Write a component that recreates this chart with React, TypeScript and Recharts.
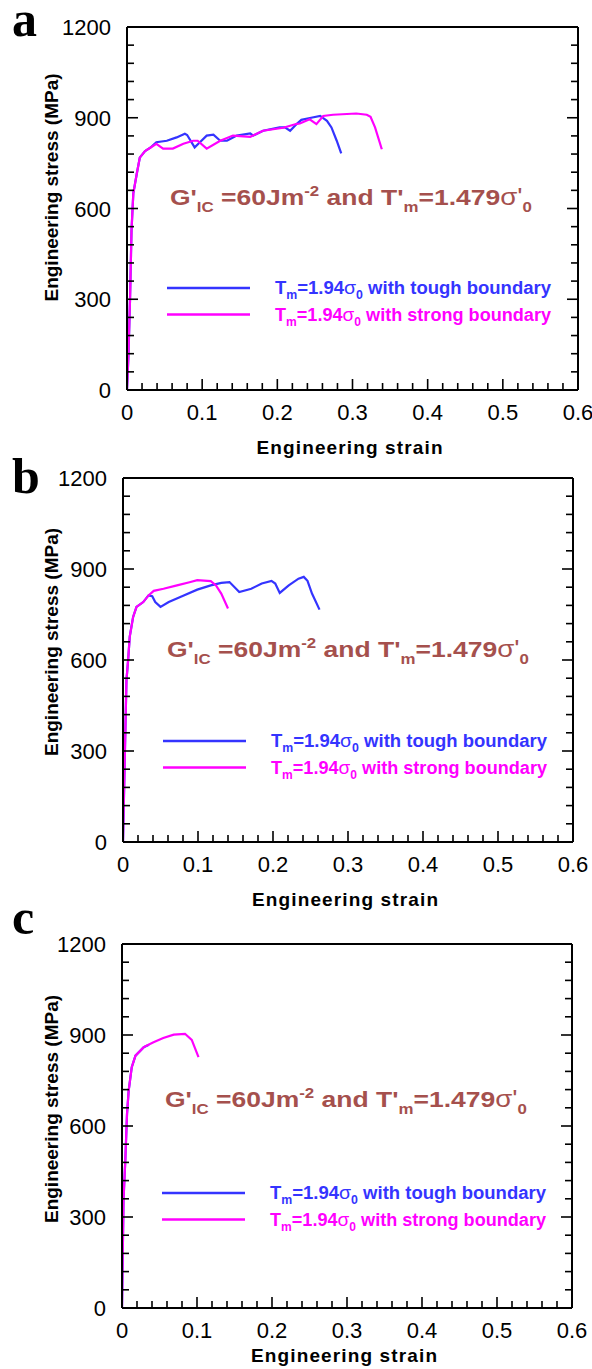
import React from 'react';
import { LineChart, Line, XAxis, YAxis, Legend, Label } from 'recharts';

// axis ticks (minor every 0.02 / 60 MPa, labels on majors)
const strainTicks = [0, 0.02, 0.04, 0.06, 0.08, 0.1, 0.12, 0.14, 0.16, 0.18, 0.2, 0.22, 0.24, 0.26, 0.28, 0.3,
  0.32, 0.34, 0.36, 0.38, 0.4, 0.42, 0.44, 0.46, 0.48, 0.5, 0.52, 0.54, 0.56, 0.58, 0.6];
const strainMajor = [0, 0.1, 0.2, 0.3, 0.4, 0.5, 0.6];
const stressTicks = [0, 60, 120, 180, 240, 300, 360, 420, 480, 540, 600, 660, 720, 780, 840, 900, 960, 1020,
  1080, 1140, 1200];
const stressMajor = [0, 300, 600, 900, 1200];
const seriesOrder = ['tough', 'strong'];

// [strain, stress MPa]
const toughA = [[0, 0], [0.002, 120], [0.004, 297], [0.006, 527], [0.0084, 650], [0.013, 715], [0.017, 768],
  [0.024, 790], [0.031, 801], [0.039, 819], [0.053, 824], [0.066, 835], [0.077, 847], [0.08, 843], [0.09, 802],
  [0.097, 819], [0.106, 841], [0.115, 844], [0.124, 824], [0.133, 824], [0.146, 841], [0.164, 848], [0.168, 841],
  [0.181, 857], [0.203, 868], [0.21, 868], [0.217, 857], [0.226, 880], [0.232, 893], [0.245, 900], [0.257, 906],
  [0.266, 890], [0.272, 868], [0.279, 824], [0.285, 782]];
const strongA = [[0, 0], [0.002, 120], [0.004, 297], [0.006, 527], [0.0084, 650], [0.013, 715], [0.017, 768],
  [0.024, 790], [0.031, 801], [0.039, 814], [0.048, 798], [0.061, 798], [0.075, 814], [0.088, 824], [0.094, 824],
  [0.106, 798], [0.124, 824], [0.141, 841], [0.164, 837], [0.181, 857], [0.208, 867], [0.226, 880], [0.23, 881],
  [0.243, 895], [0.252, 879], [0.261, 906], [0.274, 910], [0.305, 914], [0.319, 910], [0.324, 903], [0.33, 868],
  [0.339, 796]];

const toughB = [[0, 0], [0.0023, 269], [0.0046, 533], [0.0068, 599], [0.009, 677], [0.0135, 742], [0.018, 775],
  [0.027, 791], [0.034, 813], [0.039, 810], [0.043, 791], [0.05, 775], [0.061, 791], [0.081, 813], [0.099, 832],
  [0.117, 846], [0.131, 854], [0.142, 857], [0.155, 824], [0.171, 835], [0.185, 852], [0.198, 861], [0.203, 852],
  [0.209, 821], [0.221, 846], [0.234, 868], [0.241, 874], [0.246, 861], [0.252, 819], [0.262, 766]];
const strongB = [[0, 0], [0.0023, 269], [0.0046, 533], [0.0068, 599], [0.009, 677], [0.0135, 742], [0.018, 775],
  [0.027, 791], [0.034, 813], [0.041, 828], [0.054, 835], [0.072, 846], [0.09, 857], [0.099, 863], [0.117, 860],
  [0.124, 846], [0.131, 819], [0.14, 770]];

const toughC = [[0, 0], [0.001, 180], [0.002, 355], [0.0044, 487], [0.0067, 640], [0.0089, 717], [0.013, 794],
  [0.018, 832], [0.029, 860], [0.036, 868]];
const strongC = [[0, 0], [0.001, 180], [0.002, 355], [0.0044, 487], [0.0067, 640], [0.0089, 717], [0.013, 794],
  [0.018, 832], [0.029, 860], [0.042, 876], [0.055, 890], [0.069, 901], [0.084, 904], [0.093, 884], [0.102, 827]];

const BLUE = '#3434FF';
const MAGENTA = '#FF00FF';
const BROWN = '#A5504D';
const SANS = '"Liberation Sans", Arial, sans-serif';

const toPts = (a: number[][]) => a.map(([x, y]) => ({ x, y }));
const isMajor = (v: number, majors: number[]) => majors.some((m) => Math.abs(m - v) < 1e-6);
const fmtStrain = (v: number) => (v === 0 ? '0' : v.toFixed(1));
const fmtStress = (v: number) => String(v);

// inward ticks on every side of the box, labels only on bottom/left
const makeTick = (side: string, majors: number[], fmt?: (v: number) => string) => (props: any) => {
  const { x, y, payload } = props;
  const v = payload.value;
  const major = isMajor(v, majors);
  const len = major ? 11 : 7;
  let x2 = x;
  let y2 = y;
  if (side === 'bottom') y2 = y - len;
  if (side === 'top') y2 = y + len;
  if (side === 'left') x2 = x + len;
  if (side === 'right') x2 = x - len;
  return (
    <g>
      <line x1={x} y1={y} x2={x2} y2={y2} stroke="#000" strokeWidth={1.6} />
      {fmt && major && side === 'bottom' && (
        <text x={x} y={y + 30} textAnchor="middle" fontSize={22} fill="#000" fontFamily={SANS}>{fmt(v)}</text>
      )}
      {fmt && major && side === 'left' && (
        <text x={x - 16} y={y + 8} textAnchor="end" fontSize={22} fill="#000" fontFamily={SANS}>{fmt(v)}</text>
      )}
    </g>
  );
};

const BottomTick = makeTick('bottom', strainMajor, fmtStrain);
const TopTick = makeTick('top', strainMajor);
const LeftTick = makeTick('left', stressMajor, fmtStress);
const RightTick = makeTick('right', stressMajor);

const LegendBox = ({ payload }: any) => {
  const items = [...(payload || [])].sort(
    (a: any, b: any) => seriesOrder.indexOf(a.value) - seriesOrder.indexOf(b.value),
  );
  return (
    <svg width={430} height={50} style={{ overflow: 'visible' }}>
      {items.map((e: any, i: number) => {
        const y = 12 + i * 26.5;
        return (
          <g key={e.value}>
            <line x1={7} x2={90} y1={y} y2={y} stroke={e.color} strokeWidth={2.4} />
            <text x={115} y={y + 6} fill={e.color} fontFamily={SANS} fontWeight="bold" fontSize={18}
              textLength={276} lengthAdjust="spacingAndGlyphs">
              T<tspan fontSize={12} dy={5}>m</tspan>
              <tspan dy={-5}>=1.94</tspan>
              <tspan fontWeight="normal" fontSize={19}>σ</tspan>
              <tspan fontSize={12} dy={5}>0</tspan>
              <tspan dy={-5}>{` with ${e.value} boundary`}</tspan>
            </text>
          </g>
        );
      })}
    </svg>
  );
};

const panels = [
  { letter: 'a', top: 27, bottom: 390, left: 127, right: 578, tough: toughA, strong: strongA,
    noteX: 170, noteY: 205, legX: 160, legY: 288, yTitleDy: -21, xTitleDy: 64, letterY: 36, axisH: 75 },
  { letter: 'b', top: 478, bottom: 842, left: 123, right: 573, tough: toughB, strong: strongB,
    noteX: 167, noteY: 657, legX: 156, legY: 741, yTitleDy: -18, xTitleDy: 64, letterY: 493, axisH: 75 },
  { letter: 'c', top: 944, bottom: 1308, left: 122, right: 572, tough: toughC, strong: strongC,
    noteX: 165, noteY: 1107, legX: 155, legY: 1193, yTitleDy: -17, xTitleDy: 54, letterY: 934, axisH: 61 },
];

const Panel = ({ p }: { p: (typeof panels)[number] }) => {
  const chartTop = p.top - 27;
  const height = p.bottom - p.top + 27 + p.axisH;
  const axisLine = { stroke: '#000', strokeWidth: 2 };
  return (
    <div style={{ position: 'absolute', left: 0, top: chartTop, width: 592, height }}>
      <LineChart width={592} height={height} margin={{ top: 27, right: 592 - p.right, left: 0, bottom: 0 }}>
        <XAxis type="number" dataKey="x" domain={[0, 0.6]} ticks={strainTicks} interval={0} allowDataOverflow
          tickSize={0} tickMargin={0} tick={BottomTick} tickLine={false} axisLine={axisLine} height={p.axisH}>
          <Label content={(lp: any) => {
            const vb = lp.viewBox;
            return (
              <text x={vb.x + vb.width / 2 - 3} y={vb.y + p.xTitleDy} textAnchor="middle" fontFamily={SANS}
                fontWeight="bold" fontSize={19} textLength={186} lengthAdjust="spacing">Engineering strain</text>
            );
          }} />
        </XAxis>
        <XAxis xAxisId="top" orientation="top" mirror type="number" domain={[0, 0.6]} ticks={strainTicks}
          interval={0} allowDataOverflow tickSize={0} tickMargin={0} tick={TopTick} tickLine={false}
          axisLine={axisLine} />
        <YAxis type="number" domain={[0, 1200]} ticks={stressTicks} interval={0} allowDataOverflow
          tickSize={0} tickMargin={0} tick={LeftTick} tickLine={false} axisLine={axisLine} width={p.left}>
          <Label content={(lp: any) => {
            const vb = lp.viewBox;
            const cy = vb.y + vb.height / 2 + p.yTitleDy;
            return (
              <text x={58} y={cy} transform={`rotate(-90, 58, ${cy})`} textAnchor="middle" fontFamily={SANS}
                fontWeight="bold" fontSize={19}>Engineering stress (MPa)</text>
            );
          }} />
        </YAxis>
        <YAxis yAxisId="right" orientation="right" mirror type="number" domain={[0, 1200]} ticks={stressTicks}
          interval={0} allowDataOverflow tickSize={0} tickMargin={0} tick={RightTick} tickLine={false}
          axisLine={axisLine} />
        <Legend layout="horizontal" verticalAlign="middle" align="center" content={LegendBox}
          wrapperStyle={{ position: 'absolute', left: p.legX, top: p.legY - 12 - chartTop, width: 430, height: 50 }} />
        <Line name="tough" data={toPts(p.tough)} dataKey="y" type="linear" stroke={BLUE} strokeWidth={2.2}
          dot={false} isAnimationActive={false} />
        <Line name="strong" data={toPts(p.strong)} dataKey="y" type="linear" stroke={MAGENTA} strokeWidth={2.2}
          dot={false} isAnimationActive={false} />
      </LineChart>
      <svg width={592} height={height} style={{ position: 'absolute', left: 0, top: 0, pointerEvents: 'none' }}>
        <text x={p.noteX} y={p.noteY - chartTop} fill={BROWN} fontFamily={SANS} fontWeight="bold" fontSize={22}
          textLength={362} lengthAdjust="spacingAndGlyphs">
          G'<tspan fontSize={14} dy={7}>IC</tspan>
          <tspan dy={-7}> =60Jm</tspan>
          <tspan fontSize={14} dy={-9}>-2</tspan>
          <tspan dy={9}> and T'</tspan>
          <tspan fontSize={14} dy={7}>m</tspan>
          <tspan dy={-7}>=1.479</tspan>
          <tspan fontWeight="normal" fontSize={23}>σ'</tspan>
          <tspan fontSize={14} dy={7}>0</tspan>
        </text>
      </svg>
    </div>
  );
};

export default function App() {
  return (
    <div style={{ position: 'absolute', left: 0, top: 0, width: 592, height: 1369, overflow: 'hidden',
      background: '#fff', fontFamily: SANS }}>
      {panels.map((p) => (
        <Panel key={p.letter} p={p} />
      ))}
      <svg width={592} height={1369} style={{ position: 'absolute', left: 0, top: 0, pointerEvents: 'none' }}>
        {panels.map((p) => (
          <text key={p.letter} x={12} y={p.letterY} fontFamily='"Liberation Serif", serif' fontWeight="bold"
            fontSize={50} fill="#000">{p.letter}</text>
        ))}
      </svg>
    </div>
  );
}
